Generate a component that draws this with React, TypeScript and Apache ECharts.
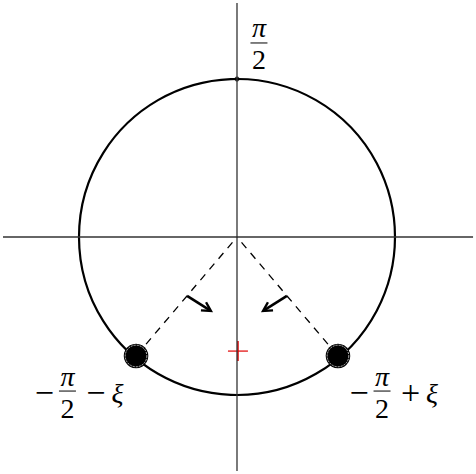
import { useEffect, useRef } from 'react';
import * as echarts from 'echarts';

// everything in units of the circle radius (radius = 1, centre at origin)
const axisH = [[-1.481, 0], [1.494, 0]];
const axisV = [[0, 1.481], [0, -1.481]];
const circle = [[0, 0, 1]];
const topPoint = [[0, 1]];
const dots = [[-0.639, -0.753], [0.639, -0.753]];
// arrow start x, start y, tip x, tip y
const arrows = [[-0.316, -0.373, -0.165, -0.468], [0.316, -0.373, 0.165, -0.468]];
const redPlus = [[0.006, -0.722]];
// labels: anchor = centre of the fraction bar
const labelPos = [[0.139, 1.228], [-1.073, -0.975], [0.918, -0.975]];
const labelPrefix = ['', '−', '−'];
const labelNum = ['π', 'π', 'π'];
const labelDen = ['2', '2', '2'];
const labelOp = ['', '−', '+'];
const labelVar = ['', 'ξ', 'ξ'];

const FONT = "'Liberation Serif', 'DejaVu Serif', serif";

const App = () => {
  const ref = useRef<HTMLDivElement>(null);

  useEffect(() => {
    document.body.style.margin = '0';
    if (!ref.current) return;
    const chart = echarts.init(ref.current, null, { renderer: 'svg' });

    const txt = (text: string, x: number, y: number, italic = false, size = 28) => ({
      type: 'text',
      x,
      y,
      style: {
        text,
        fill: '#000',
        font: `${italic ? 'italic ' : ''}${size}px ${FONT}`,
        align: 'center',
        verticalAlign: 'middle'
      }
    });

    const option: any = {
      animation: false,
      backgroundColor: '#fff',
      grid: { left: 0, right: 0, top: 0, bottom: 0 },
      xAxis: { type: 'value', min: -1.5, max: 1.5127, show: false },
      yAxis: { type: 'value', min: -1.5, max: 1.5, show: false },
      series: [
        {
          type: 'line', data: axisH, showSymbol: false, silent: true,
          lineStyle: { color: '#333', width: 1.3 }
        },
        {
          type: 'line', data: axisV, showSymbol: false, silent: true,
          lineStyle: { color: '#333', width: 1.3 }
        },
        {
          type: 'custom', data: circle, silent: true, clip: false,
          renderItem: (_p: any, api: any) => {
            const c = api.coord([api.value(0), api.value(1)]);
            const r = api.size([api.value(2), api.value(2)])[0];
            return {
              type: 'circle',
              shape: { cx: c[0], cy: c[1], r },
              style: { fill: 'none', stroke: '#000', lineWidth: 2.2 }
            };
          }
        },
        {
          // dashed radii to the two points
          type: 'custom', data: dots, silent: true, clip: false,
          renderItem: (_p: any, api: any) => {
            const o = api.coord([0, 0]);
            const d = api.coord([api.value(0), api.value(1)]);
            return {
              type: 'line',
              shape: { x1: o[0], y1: o[1], x2: d[0], y2: d[1] },
              style: { stroke: '#000', lineWidth: 1.3, lineDash: [7.5, 6.5], lineDashOffset: -7 }
            };
          }
        },
        {
          type: 'custom', data: arrows, silent: true, clip: false,
          encode: { x: [0, 2], y: [1, 3] },
          renderItem: (_p: any, api: any) => {
            const s = api.coord([api.value(0), api.value(1)]);
            const e = api.coord([api.value(2), api.value(3)]);
            const a = Math.atan2(e[1] - s[1], e[0] - s[0]);
            const L = 10;
            const b1 = [e[0] - L * Math.cos(a - 0.5), e[1] - L * Math.sin(a - 0.5)];
            const b2 = [e[0] - L * Math.cos(a + 0.5), e[1] - L * Math.sin(a + 0.5)];
            return {
              type: 'group',
              children: [
                {
                  type: 'line',
                  shape: { x1: s[0], y1: s[1], x2: e[0] - 1.5 * Math.cos(a), y2: e[1] - 1.5 * Math.sin(a) },
                  style: { stroke: '#000', lineWidth: 2.6 }
                },
                {
                  type: 'polyline',
                  shape: { points: [b1, e, b2] },
                  style: { stroke: '#000', lineWidth: 2.4, fill: 'none', lineJoin: 'miter' }
                }
              ]
            };
          }
        },
        {
          type: 'custom', data: dots, silent: true, clip: false,
          renderItem: (_p: any, api: any) => {
            const c = api.coord([api.value(0), api.value(1)]);
            return {
              type: 'group',
              children: [
                { type: 'circle', shape: { cx: c[0], cy: c[1], r: 12.3 }, style: { fill: '#000' } },
                {
                  type: 'circle', shape: { cx: c[0], cy: c[1], r: 10.8 },
                  style: { fill: 'none', stroke: '#fff', lineWidth: 0.7, lineDash: [2, 1] }
                }
              ]
            };
          }
        },
        {
          type: 'scatter', data: topPoint, symbolSize: 5, silent: true,
          itemStyle: { color: '#000' }
        },
        {
          type: 'custom', data: redPlus, silent: true, clip: false,
          renderItem: (_p: any, api: any) => {
            const c = api.coord([api.value(0), api.value(1)]);
            return {
              type: 'group',
              children: [
                { type: 'line', shape: { x1: c[0] - 10, y1: c[1], x2: c[0] + 10, y2: c[1] }, style: { stroke: '#e00000', lineWidth: 1.2 } },
                { type: 'line', shape: { x1: c[0], y1: c[1] - 10, x2: c[0], y2: c[1] + 10 }, style: { stroke: '#e00000', lineWidth: 1.6 } }
              ]
            };
          }
        },
        {
          type: 'custom', silent: true, clip: false,
          data: labelPos.map((p, i) => [p[0], p[1], i]),
          renderItem: (_p: any, api: any) => {
            const c = api.coord([api.value(0), api.value(1)]);
            const i = api.value(2);
            const children: any[] = [
              txt(labelNum[i], 0, -15, true),
              { type: 'line', shape: { x1: -8.5, y1: 0, x2: 8.5, y2: 0 }, style: { stroke: '#000', lineWidth: 1 } },
              txt(labelDen[i], 0, 17)
            ];
            if (labelPrefix[i]) children.push(txt(labelPrefix[i], -23, 1, false, 34));
            if (labelOp[i]) children.push(txt(labelOp[i], 28.5, 1, false, 34));
            if (labelVar[i]) children.push(txt(labelVar[i], 50, 2, true));
            return { type: 'group', x: c[0], y: c[1], children };
          }
        }
      ]
    };

    chart.setOption(option);
    return () => chart.dispose();
  }, []);

  return <div ref={ref} style={{ width: 476, height: 474 }} />;
};

export default App;
